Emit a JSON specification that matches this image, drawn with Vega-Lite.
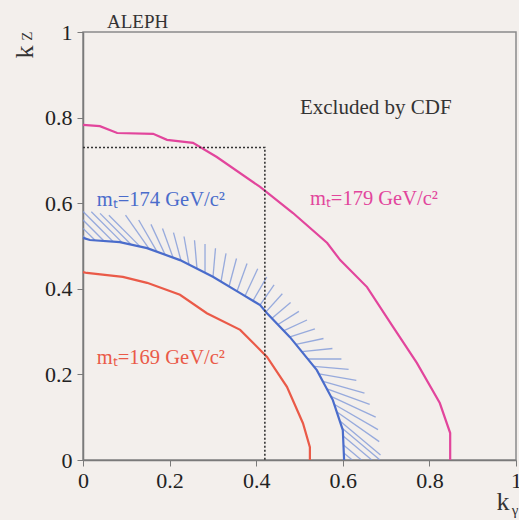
{
  "$schema": "https://vega.github.io/schema/vega-lite/v6.json",
  "width": 433,
  "height": 428,
  "autosize": {"type": "none"},
  "padding": {"left": 83, "top": 32, "right": 3, "bottom": 60},
  "background": "#f3efec",
  "config": {
    "view": {"stroke": "#8a8a8a", "strokeWidth": 1.5},
    "font": "Liberation Serif"
  },
  "title": {"text": "ALEPH", "anchor": "start", "frame": "group", "dx": 24, "offset": -11, "fontSize": 19, "font": "Liberation Serif", "fontWeight": "normal", "color": "#333333"},
  "datasets": {
    "curves": [
      {"curve": "179", "i": 1, "x": 0, "y": 0.783},
      {"curve": "179", "i": 2, "x": 0.039, "y": 0.78},
      {"curve": "179", "i": 3, "x": 0.079, "y": 0.764},
      {"curve": "179", "i": 4, "x": 0.162, "y": 0.762},
      {"curve": "179", "i": 5, "x": 0.194, "y": 0.748},
      {"curve": "179", "i": 6, "x": 0.254, "y": 0.741},
      {"curve": "179", "i": 7, "x": 0.309, "y": 0.708},
      {"curve": "179", "i": 8, "x": 0.409, "y": 0.638},
      {"curve": "179", "i": 9, "x": 0.485, "y": 0.577},
      {"curve": "179", "i": 10, "x": 0.564, "y": 0.507},
      {"curve": "179", "i": 11, "x": 0.594, "y": 0.467},
      {"curve": "179", "i": 12, "x": 0.656, "y": 0.404},
      {"curve": "179", "i": 13, "x": 0.716, "y": 0.311},
      {"curve": "179", "i": 14, "x": 0.771, "y": 0.227},
      {"curve": "179", "i": 15, "x": 0.824, "y": 0.133},
      {"curve": "179", "i": 16, "x": 0.848, "y": 0.063},
      {"curve": "179", "i": 17, "x": 0.848, "y": 0},
      {"curve": "174", "i": 1, "x": 0, "y": 0.519},
      {"curve": "174", "i": 2, "x": 0.016, "y": 0.514},
      {"curve": "174", "i": 3, "x": 0.085, "y": 0.509},
      {"curve": "174", "i": 4, "x": 0.148, "y": 0.495},
      {"curve": "174", "i": 5, "x": 0.224, "y": 0.467},
      {"curve": "174", "i": 6, "x": 0.3, "y": 0.428},
      {"curve": "174", "i": 7, "x": 0.363, "y": 0.39},
      {"curve": "174", "i": 8, "x": 0.409, "y": 0.362},
      {"curve": "174", "i": 9, "x": 0.425, "y": 0.343},
      {"curve": "174", "i": 10, "x": 0.478, "y": 0.287},
      {"curve": "174", "i": 11, "x": 0.54, "y": 0.21},
      {"curve": "174", "i": 12, "x": 0.577, "y": 0.14},
      {"curve": "174", "i": 13, "x": 0.6, "y": 0.07},
      {"curve": "174", "i": 14, "x": 0.603, "y": 0},
      {"curve": "169", "i": 1, "x": 0, "y": 0.439},
      {"curve": "169", "i": 2, "x": 0.009, "y": 0.437},
      {"curve": "169", "i": 3, "x": 0.092, "y": 0.428},
      {"curve": "169", "i": 4, "x": 0.148, "y": 0.414},
      {"curve": "169", "i": 5, "x": 0.224, "y": 0.386},
      {"curve": "169", "i": 6, "x": 0.286, "y": 0.343},
      {"curve": "169", "i": 7, "x": 0.363, "y": 0.304},
      {"curve": "169", "i": 8, "x": 0.425, "y": 0.241},
      {"curve": "169", "i": 9, "x": 0.471, "y": 0.171},
      {"curve": "169", "i": 10, "x": 0.508, "y": 0.086},
      {"curve": "169", "i": 11, "x": 0.524, "y": 0.03},
      {"curve": "169", "i": 12, "x": 0.524, "y": 0}
    ],
    "hatch": [
      {"x": 0.0069, "y": 0.5164, "x2": -0.0753, "y2": 0.5995},
      {"x": 0.0277, "y": 0.5133, "x2": -0.0531, "y2": 0.5951},
      {"x": 0.0485, "y": 0.5117, "x2": -0.0289, "y2": 0.59},
      {"x": 0.0693, "y": 0.5105, "x2": -0.0044, "y2": 0.585},
      {"x": 0.0901, "y": 0.5084, "x2": 0.0192, "y2": 0.5801},
      {"x": 0.1109, "y": 0.5037, "x2": 0.0393, "y2": 0.5762},
      {"x": 0.1316, "y": 0.4991, "x2": 0.0598, "y2": 0.5717},
      {"x": 0.1524, "y": 0.4937, "x2": 0.0982, "y2": 0.572},
      {"x": 0.1709, "y": 0.4869, "x2": 0.1286, "y2": 0.5607},
      {"x": 0.1894, "y": 0.4801, "x2": 0.157, "y2": 0.5505},
      {"x": 0.2079, "y": 0.4731, "x2": 0.1836, "y2": 0.5407},
      {"x": 0.2263, "y": 0.4661, "x2": 0.209, "y2": 0.5311},
      {"x": 0.2448, "y": 0.4565, "x2": 0.2333, "y2": 0.5222},
      {"x": 0.2633, "y": 0.4467, "x2": 0.2575, "y2": 0.5133},
      {"x": 0.2818, "y": 0.4371, "x2": 0.2818, "y2": 0.5044},
      {"x": 0.3002, "y": 0.4276, "x2": 0.306, "y2": 0.4949},
      {"x": 0.3187, "y": 0.4166, "x2": 0.3303, "y2": 0.4829},
      {"x": 0.3372, "y": 0.4054, "x2": 0.3545, "y2": 0.4708},
      {"x": 0.3557, "y": 0.3944, "x2": 0.3788, "y2": 0.4589},
      {"x": 0.3741, "y": 0.3832, "x2": 0.4035, "y2": 0.4467},
      {"x": 0.3926, "y": 0.372, "x2": 0.4242, "y2": 0.4273},
      {"x": 0.4088, "y": 0.3621, "x2": 0.4413, "y2": 0.4091},
      {"x": 0.4226, "y": 0.346, "x2": 0.4603, "y2": 0.3883},
      {"x": 0.4365, "y": 0.3313, "x2": 0.4794, "y2": 0.3678},
      {"x": 0.4503, "y": 0.3166, "x2": 0.4986, "y2": 0.3472},
      {"x": 0.4642, "y": 0.3021, "x2": 0.5173, "y2": 0.3271},
      {"x": 0.4781, "y": 0.2874, "x2": 0.5356, "y2": 0.3063},
      {"x": 0.4919, "y": 0.2703, "x2": 0.5554, "y2": 0.2839},
      {"x": 0.5058, "y": 0.253, "x2": 0.576, "y2": 0.2605},
      {"x": 0.5196, "y": 0.236, "x2": 0.5968, "y2": 0.236},
      {"x": 0.5335, "y": 0.2189, "x2": 0.6134, "y2": 0.2119},
      {"x": 0.545, "y": 0.2014, "x2": 0.6312, "y2": 0.186},
      {"x": 0.5543, "y": 0.1839, "x2": 0.6501, "y2": 0.1565},
      {"x": 0.5635, "y": 0.1664, "x2": 0.6621, "y2": 0.1301},
      {"x": 0.5727, "y": 0.1488, "x2": 0.676, "y2": 0.1},
      {"x": 0.5808, "y": 0.1297, "x2": 0.6813, "y2": 0.071},
      {"x": 0.5866, "y": 0.1121, "x2": 0.6841, "y2": 0.043},
      {"x": 0.5935, "y": 0.0911, "x2": 0.6871, "y2": 0.0117},
      {"x": 0.5993, "y": 0.0736, "x2": 0.6859, "y2": 0},
      {"x": 0.6009, "y": 0.0561, "x2": 0.667, "y2": 0},
      {"x": 0.6016, "y": 0.035, "x2": 0.643, "y2": 0},
      {"x": 0.6023, "y": 0.0164, "x2": 0.6219, "y2": 0}
    ],
    "box": [
      {"i": 1, "x": 0, "y": 0.73},
      {"i": 2, "x": 0.42, "y": 0.73},
      {"i": 3, "x": 0.42, "y": 0}
    ]
  },
  "layer": [
    {
      "data": {"name": "hatch"},
      "mark": {"type": "rule", "clip": true, "color": "#8098d8", "strokeWidth": 1.3, "opacity": 0.8},
      "encoding": {
        "x": {
          "field": "x", "type": "quantitative",
          "scale": {"domain": [0, 1], "nice": false, "zero": false},
          "axis": {"title": null, "values": [0, 0.2, 0.4, 0.6, 0.8, 1], "format": "~g", "grid": false, "domainColor": "#7a7a7a", "domainWidth": 1.5, "tickColor": "#7a7a7a", "tickSize": 6, "labelFont": "Liberation Serif", "labelFontSize": 22, "labelColor": "#222222", "labelPadding": 4, "labelFlush": false, "labelOverlap": false}
        },
        "y": {
          "field": "y", "type": "quantitative",
          "scale": {"domain": [0, 1], "nice": false, "zero": false},
          "axis": {"title": null, "values": [0, 0.2, 0.4, 0.6, 0.8, 1], "format": "~g", "grid": false, "domainColor": "#7a7a7a", "domainWidth": 1.5, "tickColor": "#7a7a7a", "tickSize": 6, "labelFont": "Liberation Serif", "labelFontSize": 22, "labelColor": "#222222", "labelPadding": 5, "labelFlush": false, "labelOverlap": false}
        },
        "x2": {"field": "x2"},
        "y2": {"field": "y2"}
      }
    },
    {
      "data": {"name": "curves"},
      "mark": {"type": "line", "strokeWidth": 2.2},
      "encoding": {
        "x": {"field": "x", "type": "quantitative"},
        "y": {"field": "y", "type": "quantitative"},
        "color": {"field": "curve", "type": "nominal", "scale": {"domain": ["179", "174", "169"], "range": ["#e2459c", "#4a6ccb", "#ea5a48"]}, "legend": null},
        "order": {"field": "i", "type": "quantitative"}
      }
    },
    {
      "data": {"name": "box"},
      "mark": {"type": "line", "color": "#333333", "strokeWidth": 1.6, "strokeDash": [2, 2]},
      "encoding": {
        "x": {"field": "x", "type": "quantitative"},
        "y": {"field": "y", "type": "quantitative"},
        "order": {"field": "i", "type": "quantitative"}
      }
    },
    {
      "data": {"values": [{"label": "Excluded by CDF"}]},
      "mark": {"type": "text", "align": "left", "baseline": "middle", "font": "Liberation Serif", "fontSize": 21, "color": "#333333"},
      "encoding": {"x": {"datum": 0.501, "type": "quantitative"}, "y": {"datum": 0.822, "type": "quantitative"}, "text": {"field": "label"}}
    },
    {
      "data": {"values": [{"label": "mₜ=179 GeV/c²"}]},
      "mark": {"type": "text", "align": "left", "baseline": "middle", "font": "Liberation Serif", "fontSize": 20.5, "color": "#e2459c"},
      "encoding": {"x": {"datum": 0.524, "type": "quantitative"}, "y": {"datum": 0.61, "type": "quantitative"}, "text": {"field": "label"}}
    },
    {
      "data": {"values": [{"label": "mₜ=174 GeV/c²"}]},
      "mark": {"type": "text", "align": "left", "baseline": "middle", "font": "Liberation Serif", "fontSize": 20.5, "color": "#4a6ccb"},
      "encoding": {"x": {"datum": 0.032, "type": "quantitative"}, "y": {"datum": 0.607, "type": "quantitative"}, "text": {"field": "label"}}
    },
    {
      "data": {"values": [{"label": "mₜ=169 GeV/c²"}]},
      "mark": {"type": "text", "align": "left", "baseline": "middle", "font": "Liberation Serif", "fontSize": 20.5, "color": "#ea5a48"},
      "encoding": {"x": {"datum": 0.032, "type": "quantitative"}, "y": {"datum": 0.238, "type": "quantitative"}, "text": {"field": "label"}}
    },
    {
      "data": {"values": [{"label": "k"}]},
      "mark": {"type": "text", "align": "center", "baseline": "middle", "angle": 270, "font": "Liberation Serif", "fontSize": 26, "color": "#333333"},
      "encoding": {"x": {"datum": -0.134, "type": "quantitative"}, "y": {"datum": 0.953, "type": "quantitative"}, "text": {"field": "label"}}
    },
    {
      "data": {"values": [{"label": "Z"}]},
      "mark": {"type": "text", "align": "center", "baseline": "middle", "angle": 270, "font": "Liberation Serif", "fontSize": 15, "color": "#333333"},
      "encoding": {"x": {"datum": -0.13, "type": "quantitative"}, "y": {"datum": 0.99, "type": "quantitative"}, "text": {"field": "label"}}
    },
    {
      "data": {"values": [{"label": "k"}]},
      "mark": {"type": "text", "align": "center", "baseline": "middle", "font": "Liberation Serif", "fontSize": 26, "color": "#333333"},
      "encoding": {"x": {"datum": 0.97, "type": "quantitative"}, "y": {"datum": -0.098, "type": "quantitative"}, "text": {"field": "label"}}
    },
    {
      "data": {"values": [{"label": "γ"}]},
      "mark": {"type": "text", "align": "center", "baseline": "middle", "font": "Liberation Serif", "fontSize": 15, "color": "#333333"},
      "encoding": {"x": {"datum": 0.998, "type": "quantitative"}, "y": {"datum": -0.117, "type": "quantitative"}, "text": {"field": "label"}}
    }
  ]
}
